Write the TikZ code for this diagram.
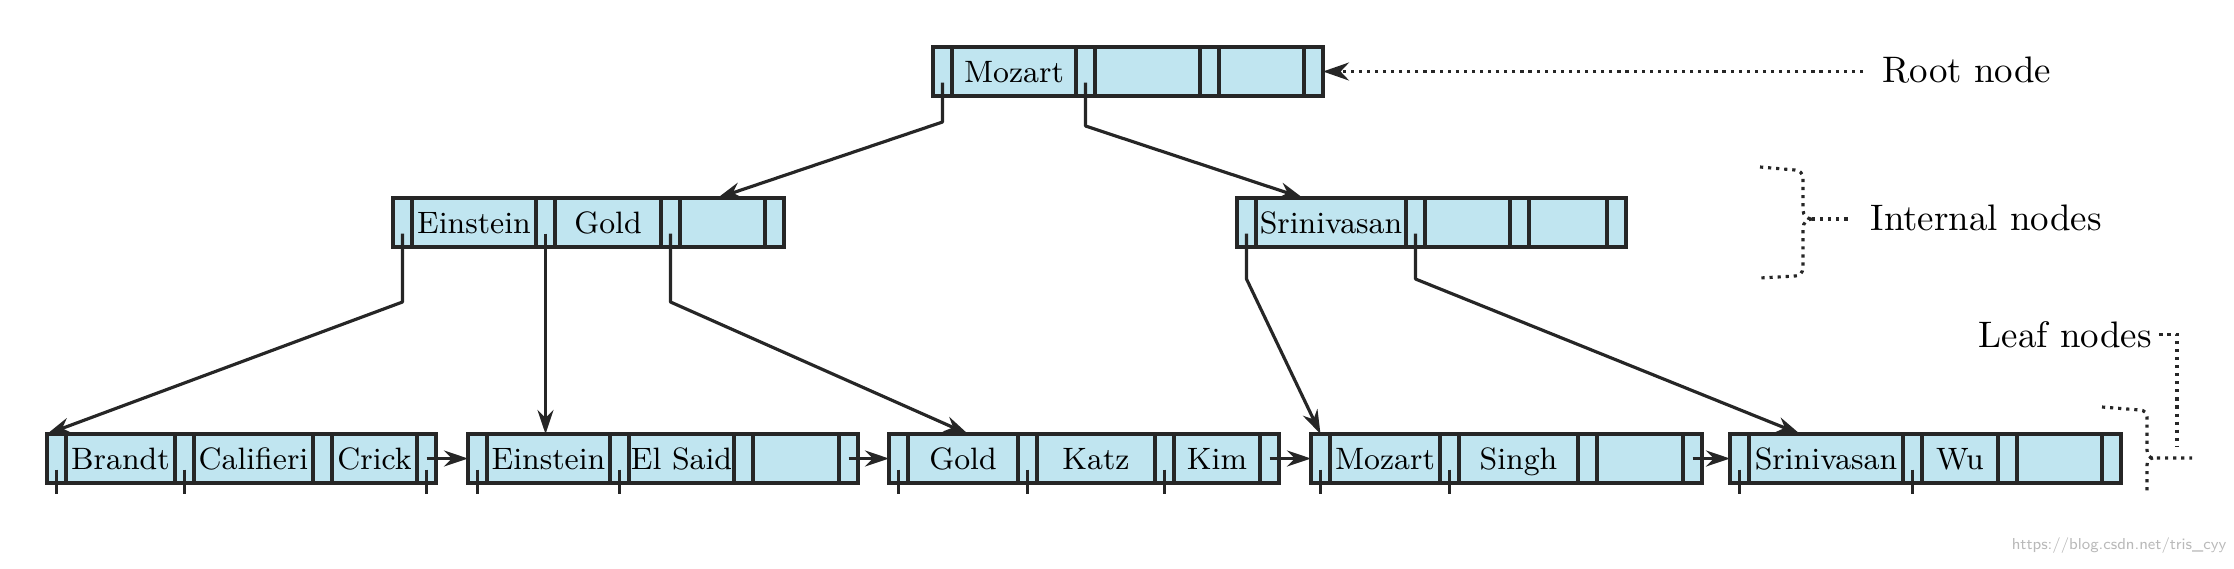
\documentclass[tikz,border=0pt]{standalone}
\usepackage{tikz}
\usetikzlibrary{positioning,arrows.meta}
\definecolor{bpblue}{RGB}{192,229,240}
\definecolor{lnc}{RGB}{38,38,38}

\newcommand{\bpnode}[8]{%
  \node[ptr, anchor=north west] (#1p0) at (#2) {};
  \node[key, minimum width=#3cm, right=0pt of #1p0] (#1k1) {#6};
  \node[ptr, right=0pt of #1k1] (#1p1) {};
  \node[key, minimum width=#4cm, right=0pt of #1p1] (#1k2) {#7};
  \node[ptr, right=0pt of #1k2] (#1p2) {};
  \node[key, minimum width=#5cm, right=0pt of #1p2] (#1k3) {#8};
  \node[ptr, right=0pt of #1k3] (#1p3) {};
}

\begin{document}
\begin{tikzpicture}[
  cell/.style={draw=lnc, fill=bpblue, line width=1pt, minimum height=0.49cm,
               inner sep=0pt, outer sep=0pt},
  ptr/.style={cell, minimum width=0.19cm},
  key/.style={cell, font=\fontsize{8.8}{10}\selectfont, text height=6.2pt, text depth=0pt},
  ar/.style={draw=lnc, line width=0.9pt, line join=round, -{Stealth[length=2.4mm, width=1.6mm]}},
  tk/.style={draw=lnc, line width=0.9pt},
  dots/.style={draw=lnc, line width=0.9pt, dash pattern=on 0.9pt off 1.4pt},
  lbl/.style={font=\fontsize{10.5}{12}\selectfont, inner sep=0pt}
]
\useasboundingbox (0,0) rectangle (22.34,-5.68);

\bpnode{r}{9.33,-0.47}{1.24}{1.05}{0.85}{Mozart}{}{}
\bpnode{i}{3.93,-1.98}{1.24}{1.06}{0.85}{Einstein}{Gold}{}
\bpnode{s}{12.37,-1.98}{1.50}{0.85}{0.78}{Srinivasan}{}{}
\bpnode{la}{0.47,-4.34}{1.09}{1.19}{0.85}{Brandt}{Califieri}{Crick}
\bpnode{lb}{4.68,-4.34}{1.23}{1.05}{0.86}{Einstein}{El Said}{}
\bpnode{lc}{8.89,-4.34}{1.10}{1.18}{0.86}{Gold}{Katz}{Kim}
\bpnode{ld}{13.11,-4.34}{1.10}{1.19}{0.86}{Mozart}{Singh}{}
\bpnode{le}{17.30,-4.34}{1.54}{0.76}{0.85}{Srinivasan}{Wu}{}

\draw[ar] ([yshift=-1.1mm]rp0.center) -- ([yshift=-2.6mm]rp0.south) -- ([xshift=-0.5mm]ik3.north);
\draw[ar] ([yshift=-1.1mm]rp1.center) -- ([yshift=-3mm]rp1.south) -- ([xshift=-2.8mm]sk1.north);
\draw[ar] ([yshift=-1.1mm]ip0.center) -- ([yshift=-5.5mm]ip0.south) -- (lap0.north west);
\draw[ar] ([yshift=-1.1mm]ip1.center) -- (ip1 |- lbk1.north);
\draw[ar] ([yshift=-1.1mm]ip2.center) -- ([yshift=-5.5mm]ip2.south) -- ([xshift=0.5mm]lck1.north);
\draw[ar] ([yshift=-1.1mm]sp0.center) -- ([yshift=-3.2mm]sp0.south) -- (ldp0.north);
\draw[ar] ([yshift=-1.1mm]sp1.center) -- ([yshift=-3.2mm]sp1.south) -- ([xshift=-2.6mm]lek1.north);

\foreach \c in {lap0,lap1,lap3,lbp0,lbp1,lcp0,lcp1,lcp2,ldp0,ldp1,lep0,lep1}
  \draw[tk] ([yshift=-1.1mm]\c.center) -- ([yshift=-1.1mm]\c.south);
\foreach \a/\b in {lap3/lbp0, lbp3/lcp0, lcp3/ldp0, ldp3/lep0}
  \draw[ar] (\a.center) -- (\b.west);

\node[lbl, anchor=base west] (rootlbl) at (18.82,-0.82) {Root node};
\node[lbl, anchor=base west] (intlbl) at (18.70,-2.30) {Internal nodes};
\node[lbl, anchor=base west] (leaflbl) at (19.78,-3.47) {Leaf nodes};

\draw[dots, shorten <=1.9mm, -{Stealth[length=2.6mm, width=1.8mm]}] (rp3.east -| rootlbl.west) -- (rp3.east);

\coordinate (icusp) at (18.12,-2.19);
\draw[dots] (17.60,-1.67) -- (17.95,-1.70) to[out=0,in=90] (18.03,-1.78) -- (18.03,-2.10)
  to[out=-90,in=180] (icusp);
\draw[dots] (icusp) to[out=180,in=90] (18.03,-2.28) -- (18.03,-2.68)
  to[out=-90,in=0] (17.95,-2.76) -- (17.60,-2.78);
\draw[dots, shorten >=2mm] (icusp) -- (icusp -| intlbl.west);

\coordinate (lcusp) at (21.53,-4.58);
\coordinate (leafend) at (21.77,-4.47);
\draw[dots] (21.02,-4.07) -- (21.40,-4.10) to[out=0,in=90] (21.47,-4.17) -- (21.47,-4.50)
  to[out=-90,in=180] (lcusp) -- (21.92,-4.58);
\draw[dots] (lcusp) to[out=180,in=90] (21.47,-4.65) -- (21.47,-4.95);
\draw[dots, shorten <=0.7mm] (leaflbl.east) -| (leafend);

\node[anchor=east, inner sep=0pt, text=gray!55, font=\sffamily\fontsize{4.5}{5}\selectfont] (wm) at (22.27,-5.46) {https://blog.csdn.net/tris\_cyy};
\end{tikzpicture}
\end{document}
